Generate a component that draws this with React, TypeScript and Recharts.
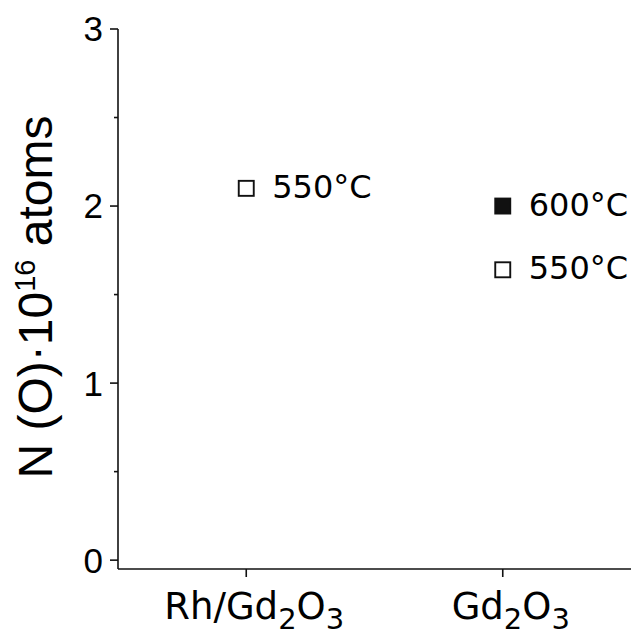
import React from "react";
import { ScatterChart, Scatter, XAxis, YAxis, Label } from "recharts";

// sample categories on the x axis (digits are drawn as subscripts)
const categories = ["Rh/Gd2O3", "Gd2O3"];
const categoryPos = [1, 2];

// oxygen amount, N(O) in units of 1e16 atoms
const temps = ["550°C", "600°C"];
const oxygen550 = [2.1, 1.64];
const oxygen600 = [null, 2.0];

const yTicks = [0, 0.5, 1, 1.5, 2, 2.5, 3];

const INK = "#111";
const AXIS_W = 1.6;

const toPoints = (values: (number | null)[]) =>
  categoryPos
    .map((x, i) => ({ x, y: values[i] }))
    .filter((d) => d.y !== null);

const data550 = toPoints(oxygen550);
const data600 = toPoints(oxygen600);

// square marker with the temperature written to its right
const makeMarker = (filled: boolean, text: string) => (props: any) => {
  const { cx, cy } = props;
  const s = 15;
  return (
    <g>
      <rect
        x={cx - s / 2}
        y={cy - s / 2}
        width={s}
        height={s}
        fill={filled ? INK : "#fff"}
        stroke={INK}
        strokeWidth={1.9}
      />
      <text
        x={cx + 26}
        y={cy + 9.5}
        fontFamily="DejaVu Sans"
        fontSize={32}
        fill="#000"
      >
        {text}
      </text>
    </g>
  );
};

function CategoryTick(props: any) {
  const { x, y, payload } = props;
  const label = categories[categoryPos.indexOf(payload.value)] ?? "";
  const parts = label.split(/(\d+)/).filter(Boolean);
  return (
    <text
      x={x + 8}
      y={y + 40}
      textAnchor="middle"
      fontFamily="DejaVu Sans"
      fontSize={37}
      fill="#000"
    >
      {parts.map((p, i) =>
        /\d/.test(p) ? (
          <tspan key={i} fontSize={29} dy={10}>
            {p}
          </tspan>
        ) : (
          <tspan key={i} dy={i > 0 ? -10 : 0}>
            {p}
          </tspan>
        )
      )}
    </text>
  );
}

function ValueTick(props: any) {
  const { x, y, payload } = props;
  const v = payload.value as number;
  const major = Number.isInteger(v);
  const axisX = x + 15;
  return (
    <g>
      <line
        x1={axisX - (major ? 8 : 4)}
        x2={axisX}
        y1={y}
        y2={y}
        stroke={INK}
        strokeWidth={AXIS_W}
      />
      {major && (
        <text
          x={x}
          y={y}
          dy="0.355em"
          textAnchor="end"
          fontFamily="Liberation Sans, Arial, sans-serif"
          fontSize={35}
          fill="#000"
        >
          {v}
        </text>
      )}
    </g>
  );
}

function AxisTitle(props: any) {
  const vb = props.viewBox || { x: 0, y: 29, width: 118, height: 540 };
  const cy = vb.y + vb.height / 2 - 2;
  return (
    <text
      transform={`translate(52,${cy}) rotate(-90)`}
      textAnchor="middle"
      fontFamily="Liberation Sans, Arial, sans-serif"
      fontSize={48}
      fill="#000"
    >
      N (O)·10
      <tspan fontSize={29} dy={-17}>
        16
      </tspan>
      <tspan dy={17}>{"\u00a0atoms"}</tspan>
    </text>
  );
}

export default function App() {
  return (
    <div style={{ position: "absolute", left: 0, top: 0, background: "#fff" }}>
      <ScatterChart
        width={634}
        height={635}
        margin={{ top: 29, right: 3, bottom: 0, left: 0 }}
      >
        <XAxis
          dataKey="x"
          type="number"
          domain={[0.5, 2.5]}
          ticks={categoryPos}
          tick={<CategoryTick />}
          tickSize={8}
          tickMargin={2}
          height={66}
          axisLine={{ stroke: INK, strokeWidth: AXIS_W }}
          tickLine={{ stroke: INK, strokeWidth: AXIS_W }}
        />
        <XAxis
          xAxisId="top"
          orientation="top"
          type="number"
          domain={[0.5, 2.5]}
          height={0}
          tick={false}
          tickLine={false}
          axisLine={{ stroke: INK, strokeWidth: AXIS_W }}
        />
        <YAxis
          dataKey="y"
          type="number"
          domain={[-0.05, 3]}
          ticks={yTicks}
          interval={0}
          tick={<ValueTick />}
          tickLine={false}
          tickSize={8}
          tickMargin={7}
          width={118}
          axisLine={{ stroke: INK, strokeWidth: AXIS_W }}
        >
          <Label content={<AxisTitle />} />
        </YAxis>
        <YAxis
          yAxisId="right"
          orientation="right"
          type="number"
          domain={[-0.05, 3]}
          width={0}
          tick={false}
          tickLine={false}
          axisLine={{ stroke: INK, strokeWidth: AXIS_W }}
        />
        <Scatter
          name={temps[0]}
          data={data550}
          shape={makeMarker(false, temps[0])}
          isAnimationActive={false}
        />
        <Scatter
          name={temps[1]}
          data={data600}
          shape={makeMarker(true, temps[1])}
          isAnimationActive={false}
        />
      </ScatterChart>
    </div>
  );
}
